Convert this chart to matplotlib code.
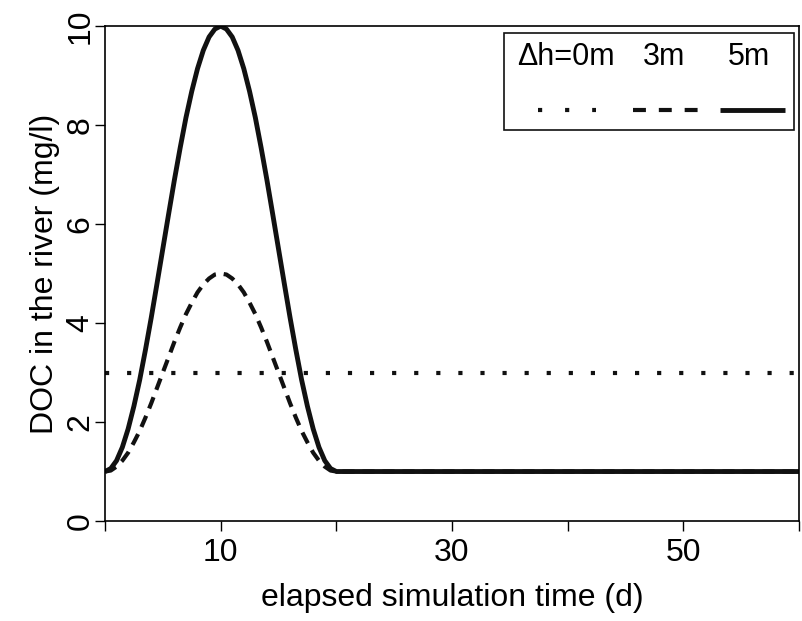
import matplotlib
matplotlib.use("Agg")
import matplotlib.pyplot as plt
from matplotlib.patches import Rectangle

plt.rcParams['font.family'] = ['Liberation Sans', 'DejaVu Sans']

# time axis of the pulse (days), then flat until day 60
days = [0, 0.5, 1, 1.5, 2, 2.5, 3, 3.5, 4, 4.5, 5, 5.5, 6, 6.5, 7, 7.5, 8, 8.5, 9, 9.5,
        10, 10.5, 11, 11.5, 12, 12.5, 13, 13.5, 14, 14.5, 15, 15.5, 16, 16.5, 17, 17.5,
        18, 18.5, 19, 19.5, 20, 60]

# DOC (mg/l) for dh = 5 m
doc_5m = [1.00, 1.06, 1.22, 1.49, 1.86, 2.32, 2.85, 3.46, 4.11, 4.80, 5.50, 6.20, 6.89,
          7.54, 8.15, 8.68, 9.14, 9.51, 9.78, 9.94, 10.00, 9.94, 9.78, 9.51, 9.14, 8.68,
          8.15, 7.54, 6.89, 6.20, 5.50, 4.80, 4.11, 3.46, 2.85, 2.32, 1.86, 1.49, 1.22,
          1.06, 1.00, 1.00]

# DOC (mg/l) for dh = 3 m
doc_3m = [1.00, 1.02, 1.10, 1.22, 1.38, 1.59, 1.82, 2.09, 2.38, 2.69, 3.00, 3.31, 3.62,
          3.91, 4.18, 4.41, 4.62, 4.78, 4.90, 4.98, 5.00, 4.98, 4.90, 4.78, 4.62, 4.41,
          4.18, 3.91, 3.62, 3.31, 3.00, 2.69, 2.38, 2.09, 1.82, 1.59, 1.38, 1.22, 1.10,
          1.02, 1.00, 1.00]

# DOC (mg/l) for dh = 0 m
days_0m = [0, 60]
doc_0m = [3, 3]

legend_labels = ["\u0394h=0m", "3m", "5m"]

x_major = [10, 30, 50]
x_minor = [0, 20, 40, 60]
y_ticks = [0, 2, 4, 6, 8, 10]

DOTTED = (0, (1, 4.3))
DASHED = (0, (2.9, 1.9))

fig = plt.figure(figsize=(8.02, 6.21), dpi=100)
ax = fig.add_axes([0.1309, 0.161, 0.8654, 0.797])

ax.plot(days_0m, doc_0m, color='#111111', lw=3, linestyle=DOTTED, dash_capstyle='butt')
ax.plot(days, doc_5m, color='#111111', lw=3.5, solid_capstyle='butt')
ax.plot(days, doc_3m, color='#111111', lw=3, linestyle=DASHED, dash_capstyle='butt')

ax.set_xlim(0, 60)
ax.set_ylim(0, 10)
ax.set_xticks(x_major)
ax.set_xticks(x_minor, minor=True)
ax.set_yticks(y_ticks)
ax.tick_params(axis='both', which='both', direction='out', length=7, width=1, labelsize=23)
ax.tick_params(axis='x', pad=5)
ax.tick_params(axis='y', pad=0)
for lab in ax.get_yticklabels():
    lab.set_rotation(90)
    lab.set_va('center')
for s in ax.spines.values():
    s.set_linewidth(1.2)

ax.set_xlabel("elapsed simulation time (d)", fontsize=23, labelpad=11)
ax.set_ylabel("DOC in the river (mg/l)", fontsize=23, labelpad=4)

# hand-made legend box in the upper right corner
ax.add_patch(Rectangle((0.575, 0.790), 0.418, 0.196, transform=ax.transAxes,
                       fill=False, lw=1.2, edgecolor='#111111', clip_on=False))
for x0, lab in zip([0.594, 0.775, 0.898], legend_labels):
    ax.text(x0, 0.937, lab, transform=ax.transAxes, fontsize=22, va='center', ha='left')
ax.plot([0.624, 0.708], [0.830, 0.830], transform=ax.transAxes, color='#111111',
        lw=3, linestyle=(0, (1, 5.5)), dash_capstyle='butt')
ax.plot([0.761, 0.856], [0.830, 0.830], transform=ax.transAxes, color='#111111',
        lw=3, linestyle=(0, (3.1, 3.1)), dash_capstyle='butt')
ax.plot([0.886, 0.980], [0.830, 0.830], transform=ax.transAxes, color='#111111',
        lw=3.5, solid_capstyle='butt')

fig.savefig("out.png", dpi=100)
